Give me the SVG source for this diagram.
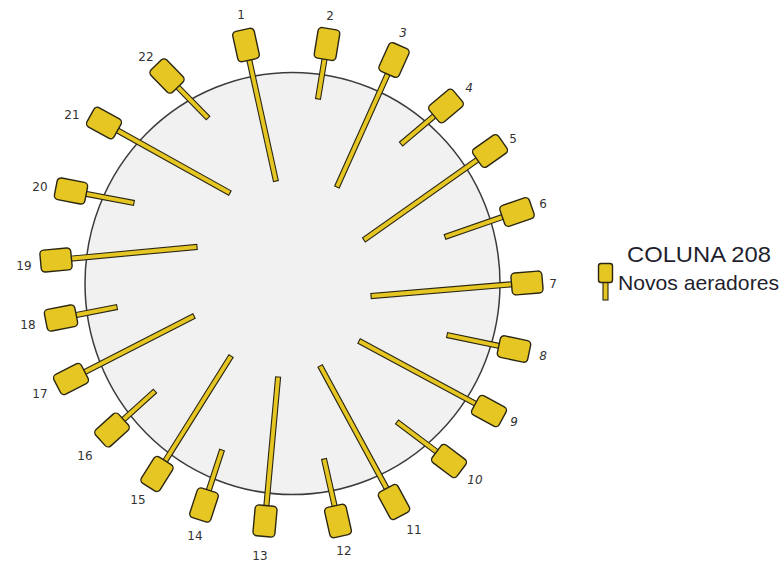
<svg xmlns="http://www.w3.org/2000/svg" width="784" height="565" viewBox="0 0 784 565">
  <defs>
    <style>
      .rod { fill: #E5C623; stroke: #2a2612; stroke-width: 1.1; }
      .box { fill: #E5C623; stroke: #2a2612; stroke-width: 1.4; }
      .num { font-family: "DejaVu Sans", "Liberation Sans", sans-serif; font-size: 12px; fill: #333; text-anchor: middle; }
      .it { font-style: italic; }
      .legend { font-family: "Liberation Sans", Arial, sans-serif; fill: #1f1f2e; }
    </style>
    <!-- aerator head, centred on the origin; the rod runs along +y -->
    <rect id="head" class="box" x="-11" y="-15.5" width="22" height="31" rx="4"/>
  </defs>

  <!-- column cross-section -->
  <ellipse id="column" cx="292.5" cy="283.5" rx="207.5" ry="211" fill="#F1F1F1" stroke="#3c3c3c" stroke-width="1.5"/>

  <!-- aerators: translate(head centre) rotate(direction of rod) -->
  <g id="connectors">
    <rect class="rod" transform="translate(246,45) rotate(-12.4)" x="-2.5" y="15" width="5" height="124.3"/>
    <rect class="rod" transform="translate(327,44) rotate(9.3)" x="-2.5" y="15" width="5" height="40.7"/>
    <rect class="rod" transform="translate(394,60) rotate(24.2)" x="-2.5" y="15" width="5" height="124.2"/>
    <rect class="rod" transform="translate(446,106) rotate(49.8)" x="-2.5" y="15" width="5" height="43.9"/>
    <rect class="rod" transform="translate(490,151) rotate(54.8)" x="-2.5" y="15" width="5" height="139.3"/>
    <rect class="rod" transform="translate(517,212) rotate(70.9)" x="-2.5" y="15" width="5" height="61.2"/>
    <rect class="rod" transform="translate(527,283) rotate(85.2)" x="-2.5" y="15" width="5" height="141.5"/>
    <rect class="rod" transform="translate(514,349) rotate(101.8)" x="-2.5" y="15" width="5" height="53.4"/>
    <rect class="rod" transform="translate(489,411) rotate(118.3)" x="-2.5" y="15" width="5" height="132.6"/>
    <rect class="rod" transform="translate(449,461) rotate(126.9)" x="-2.5" y="15" width="5" height="50"/>
    <rect class="rod" transform="translate(394,502) rotate(151.5)" x="-2.5" y="15" width="5" height="139.8"/>
    <rect class="rod" transform="translate(338,521) rotate(167.3)" x="-2.5" y="15" width="5" height="48.6"/>
    <rect class="rod" transform="translate(265,521) rotate(185.2)" x="-2.5" y="15" width="5" height="129.6"/>
    <rect class="rod" transform="translate(204,505) rotate(-161.9)" x="-2.5" y="15" width="5" height="42.9"/>
    <rect class="rod" transform="translate(157,474) rotate(-147.9)" x="-2.5" y="15" width="5" height="124.3"/>
    <rect class="rod" transform="translate(112,430) rotate(-132.2)" x="-2.5" y="15" width="5" height="43"/>
    <rect class="rod" transform="translate(71,379) rotate(-117.1)" x="-2.5" y="15" width="5" height="123.2"/>
    <rect class="rod" transform="translate(61,318) rotate(-101.1)" x="-2.5" y="15" width="5" height="42.1"/>
    <rect class="rod" transform="translate(56,260) rotate(-95.3)" x="-2.5" y="15" width="5" height="126.6"/>
    <rect class="rod" transform="translate(71,191) rotate(-79.2)" x="-2.5" y="15" width="5" height="49.1"/>
    <rect class="rod" transform="translate(104,123) rotate(-60.9)" x="-2.5" y="15" width="5" height="129.1"/>
    <rect class="rod" transform="translate(167,76) rotate(-44.3)" x="-2.5" y="15" width="5" height="43.7"/>
  </g>

  <g id="a1"><use href="#head" transform="translate(246,45) rotate(-12.4)"/><text class="num" x="241" y="19">1</text></g>
  <g id="a2"><use href="#head" transform="translate(327,44) rotate(9.3)"/><text class="num" x="330" y="20">2</text></g>
  <g id="a3"><use href="#head" transform="translate(394,60) rotate(24.2)"/><text class="num it" x="403" y="37">3</text></g>
  <g id="a4"><use href="#head" transform="translate(446,106) rotate(49.8)"/><text class="num it" x="469" y="92">4</text></g>
  <g id="a5"><use href="#head" transform="translate(490,151) rotate(54.8)"/><text class="num" x="513" y="143">5</text></g>
  <g id="a6"><use href="#head" transform="translate(517,212) rotate(70.9)"/><text class="num" x="543" y="208">6</text></g>
  <g id="a7"><use href="#head" transform="translate(527,283) rotate(85.2)"/><text class="num" x="553" y="288">7</text></g>
  <g id="a8"><use href="#head" transform="translate(514,349) rotate(101.8)"/><text class="num it" x="543" y="360">8</text></g>
  <g id="a9"><use href="#head" transform="translate(489,411) rotate(118.3)"/><text class="num it" x="514" y="426">9</text></g>
  <g id="a10"><use href="#head" transform="translate(449,461) rotate(126.9)"/><text class="num it" x="475" y="484">10</text></g>
  <g id="a11"><use href="#head" transform="translate(394,502) rotate(151.5)"/><text class="num" x="414" y="534">11</text></g>
  <g id="a12"><use href="#head" transform="translate(338,521) rotate(167.3)"/><text class="num" x="344" y="555">12</text></g>
  <g id="a13"><use href="#head" transform="translate(265,521) rotate(185.2)"/><text class="num" x="260" y="560">13</text></g>
  <g id="a14"><use href="#head" transform="translate(204,505) rotate(-161.9)"/><text class="num" x="195" y="540">14</text></g>
  <g id="a15"><use href="#head" transform="translate(157,474) rotate(-147.9)"/><text class="num" x="138" y="504">15</text></g>
  <g id="a16"><use href="#head" transform="translate(112,430) rotate(-132.2)"/><text class="num" x="85" y="460">16</text></g>
  <g id="a17"><use href="#head" transform="translate(71,379) rotate(-117.1)"/><text class="num" x="40" y="398">17</text></g>
  <g id="a18"><use href="#head" transform="translate(61,318) rotate(-101.1)"/><text class="num" x="28" y="329">18</text></g>
  <g id="a19"><use href="#head" transform="translate(56,260) rotate(-95.3)"/><text class="num" x="24" y="270">19</text></g>
  <g id="a20"><use href="#head" transform="translate(71,191) rotate(-79.2)"/><text class="num" x="40" y="191">20</text></g>
  <g id="a21"><use href="#head" transform="translate(104,123) rotate(-60.9)"/><text class="num" x="72" y="119">21</text></g>
  <g id="a22"><use href="#head" transform="translate(167,76) rotate(-44.3)"/><text class="num" x="146" y="61">22</text></g>

  <!-- legend -->
  <g id="legend">
    <rect class="rod" x="603" y="282" width="5" height="18"/>
    <rect class="box" x="598.5" y="263.5" width="14" height="19" rx="2.5"/>
    <text class="legend" x="627" y="262" font-size="22" textLength="144" lengthAdjust="spacingAndGlyphs">COLUNA 208</text>
    <text class="legend" x="618" y="290" font-size="21" textLength="161" lengthAdjust="spacingAndGlyphs">Novos aeradores</text>
  </g>
</svg>
